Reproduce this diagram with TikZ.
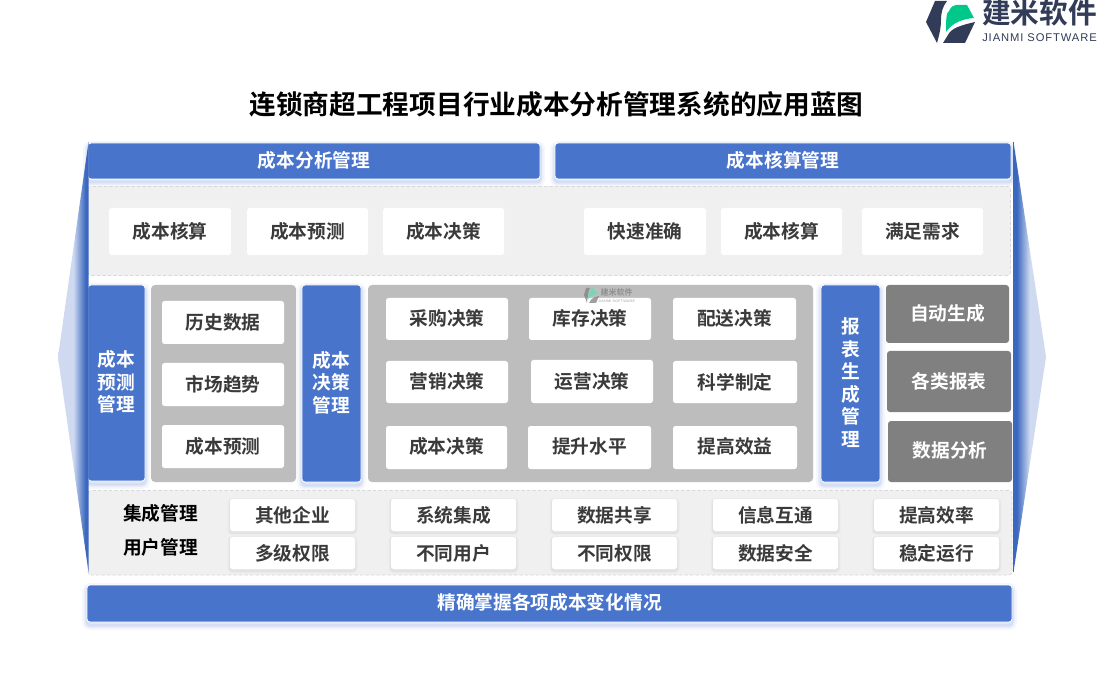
\documentclass[tikz,border=0pt]{standalone}
\usepackage{fontspec}
\setmainfont{Noto Sans CJK SC}[BoldFont={* Bold}]
\newfontfamily\cjkb{Noto Sans CJK SC Bold}
\newfontfamily\latinf{Liberation Sans}[LetterSpace=8]
\definecolor{hblue}{HTML}{4874CB}
\definecolor{wingD}{HTML}{3B68BE}
\definecolor{wingL}{HTML}{CFDAF1}
\definecolor{band}{HTML}{F0F0F0}
\definecolor{dash}{HTML}{D8D8D8}
\definecolor{lgrey}{HTML}{BDBDBD}
\definecolor{dgrey}{HTML}{808080}
\definecolor{ink}{HTML}{3A3A3A}
\definecolor{logod}{HTML}{323C58}
\definecolor{logog}{HTML}{00C78A}
\definecolor{glow}{HTML}{7F9BE0}
\pgfdeclarehorizontalshading{wingleft}{100bp}{color(0bp)=(wingL);color(50bp)=(wingL);color(70bp)=(wingD);color(100bp)=(wingD)}
\pgfdeclarehorizontalshading{wingright}{100bp}{color(0bp)=(wingD);color(30bp)=(wingD);color(50bp)=(wingL);color(100bp)=(wingL)}
\tikzset{
  x=1pt,y=-1pt,
  boxtext/.style={font=\cjkb\fontsize{18.7}{20}\selectfont,text=ink,inner sep=0pt},
  uptext/.style={boxtext,yshift=1pt},
  whitetext/.style={font=\cjkb\fontsize{18.7}{22.5}\selectfont,text=white,inner sep=0pt,align=center,yshift=1pt},
  glowing/.style={
    preaction={draw=glow,draw opacity=.07,line width=10pt,transform canvas={yshift=-3pt}},
    preaction={draw=glow,draw opacity=.10,line width=6pt,transform canvas={yshift=-3pt}},
    preaction={draw=glow,draw opacity=.18,line width=3pt,transform canvas={yshift=-3pt}}},
  bluebox/.style={glowing,fill=hblue,draw=white,line width=.8pt,rounded corners=3pt},
  whitebox/.style={fill=white,rounded corners=2.5pt},
  softbox/.style={
    preaction={draw=black,draw opacity=.025,line width=5pt,transform canvas={yshift=-1.5pt}},
    preaction={draw=black,draw opacity=.03,line width=2.5pt,transform canvas={yshift=-1.5pt}},
    fill=white,rounded corners=2.5pt},
  bandbox/.style={fill=band,draw=dash,dash pattern=on 3.5pt off 2pt,line width=.7pt,rounded corners=3pt},
  greybox/.style={fill=lgrey,rounded corners=4pt},
  darkbox/.style={fill=dgrey,rounded corners=3pt},
}
% #1 name, #2 style, #3 x0, #4 y0, #5 x1, #6 y1, #7 text style, #8 text
\newcommand{\bx}[8]{%
  \path[#2] (#3,#4) rectangle (#5,#6);
  \node[#7] (#1) at ({(#3+#5)/2},{(#4+#6)/2}) {#8};}
\begin{document}
\begin{tikzpicture}
\useasboundingbox (0,0) rectangle (1100,700);
\fill[white] (0,0) rectangle (1100,700);

% title
\node[font=\cjkb\fontsize{26.7}{30}\selectfont,text=black,inner sep=0pt] (title) at (556.5,104) {连锁商超工程项目行业成本分析管理系统的应用蓝图};

% logo
\fill[logod] (935,1) -- (947,1) .. controls (943,6) and (941,12) .. (941,20) .. controls (941,28) and (939,36) .. (937,43) -- (926,22) -- cycle;
\fill[logod] (943,43) -- (965,43) -- (975,22) .. controls (962,25) and (951,28) .. (948,35) -- cycle;
\fill[logog] (946,32) .. controls (946,22) and (946,12) .. (949,11) .. controls (951,7) and (953,5) .. (956,5) -- (967,5) -- (974,18) .. controls (962,19) and (952,23) .. (946,32) -- cycle;
\node[font=\cjkb\fontsize{28.7}{30}\selectfont,text=logod,inner sep=0pt] (logocn) at (1039.5,13) {建米软件};
\node[font=\latinf\fontsize{11.2}{12}\selectfont,text=logod,inner sep=0pt] (logoen) at (1039.5,38) {JIANMI SOFTWARE};

% header bars
\bx{hleft}{bluebox}{88}{143}{540}{179}{whitetext}{成本分析管理}
\bx{hright}{bluebox}{555}{143}{1011}{179}{whitetext}{成本核算管理}

% band 1
\path[bandbox] (88,186.5) rectangle (1010.5,275.5);
\bx{a1}{whitebox}{109}{208}{231}{255}{boxtext}{成本核算}
\bx{a2}{whitebox}{247}{208}{368}{255}{boxtext}{成本预测}
\bx{a3}{whitebox}{383}{208}{504}{255}{boxtext}{成本决策}
\bx{a4}{whitebox}{584}{208}{706}{255}{boxtext}{快速准确}
\bx{a5}{whitebox}{721}{208}{842}{255}{boxtext}{成本核算}
\bx{a6}{whitebox}{862}{208}{983}{255}{boxtext}{满足需求}

% middle: left
\bx{m1}{bluebox}{88}{285}{145}{481}{whitetext}{成本\\预测\\管理}
\path[greybox] (151,285) rectangle (296,482);
\bx{b1}{whitebox}{162}{301}{284}{344}{boxtext}{历史数据}
\bx{b2}{whitebox}{162}{363}{284}{406}{boxtext}{市场趋势}
\bx{b3}{whitebox}{162}{425}{284}{468}{boxtext}{成本预测}

% middle: centre
\bx{m2}{bluebox}{302}{285}{361}{482}{whitetext}{成本\\决策\\管理}
\path[greybox] (368,285) rectangle (813,482);
\bx{c1}{whitebox}{386}{298}{508}{340}{uptext}{采购决策}
\bx{c2}{whitebox}{529}{298}{651}{340}{uptext}{库存决策}
\bx{c3}{whitebox}{673}{298}{796}{340}{uptext}{配送决策}
\bx{c4}{whitebox}{386}{361}{508}{403}{uptext}{营销决策}
\bx{c5}{whitebox}{531}{360}{653}{403}{boxtext}{运营决策}
\bx{c6}{whitebox}{673}{361}{797}{403}{boxtext}{科学制定}
\bx{c7}{whitebox}{386}{426}{507}{469}{uptext}{成本决策}
\bx{c8}{whitebox}{528}{426}{651}{469}{uptext}{提升水平}
\bx{c9}{whitebox}{673}{426}{797}{469}{uptext}{提高效益}

% watermark
\begin{scope}[opacity=.75]
\fill[dgrey] (586,288) -- (590,288) .. controls (588,291) and (588,296) .. (587,303) -- (584,295) -- cycle;
\fill[dgrey] (589,303) -- (596,303) -- (599,296) .. controls (595,297) and (591,298) .. (589,303) -- cycle;
\fill[logog!60!white] (588,299) .. controls (588,294) and (590,289) .. (593,288) -- (598,294) .. controls (594,294) and (591,296) .. (588,299) -- cycle;
\node[font=\cjkb\fontsize{8}{9}\selectfont,text=dgrey,inner sep=0pt] (wm) at (616.5,292.5) {建米软件};
\node[font=\latinf\fontsize{3.6}{4}\selectfont,text=dgrey,inner sep=0pt] (wmen) at (616.5,301) {JIANMI SOFTWARE};
\end{scope}

% middle: right
\bx{m3}{bluebox}{821}{285}{880}{482}{whitetext}{报\\表\\生\\成\\管\\理}
\bx{d1}{darkbox}{886}{285}{1009}{343}{whitetext}{自动生成}
\path[darkbox] (887,351) rectangle (1011,412);
\node[boxtext,text=white] (d2) at (949,381.5) {各类报表};
\bx{d3}{darkbox}{888}{421}{1012}{482}{whitetext}{数据分析}

% band 2
\path[bandbox] (88,490.5) rectangle (1012,575);
\node[font=\cjkb\fontsize{18.7}{20}\selectfont,text=black,inner sep=0pt] (l1) at (160.5,513) {集成管理};
\node[font=\cjkb\fontsize{18.7}{20}\selectfont,text=black,inner sep=0pt] (l2) at (160.5,547) {用户管理};
\bx{e1}{softbox}{230}{499}{355}{531}{boxtext}{其他企业}
\bx{e2}{softbox}{391}{499}{516}{531}{boxtext}{系统集成}
\bx{e3}{softbox}{552}{499}{677}{531}{boxtext}{数据共享}
\bx{e4}{softbox}{713}{499}{838}{531}{boxtext}{信息互通}
\bx{e5}{softbox}{874}{499}{999}{531}{boxtext}{提高效率}
\bx{f1}{softbox}{230}{537}{355}{569}{boxtext}{多级权限}
\bx{f2}{softbox}{391}{537}{516}{569}{boxtext}{不同用户}
\bx{f3}{softbox}{552}{537}{677}{569}{boxtext}{不同权限}
\bx{f4}{softbox}{713}{537}{838}{569}{boxtext}{数据安全}
\bx{f5}{softbox}{874}{537}{999}{569}{boxtext}{稳定运行}

% bottom bar
\bx{foot}{bluebox}{87}{585}{1012}{622}{whitetext}{精确掌握各项成本变化情况}

% side wings
\path[shading=wingleft] (88.5,142) -- (58,357) -- (88.5,572) -- cycle;
\path[shading=wingright] (1013.5,142) -- (1046,357) -- (1013.5,572) -- cycle;
\end{tikzpicture}
\end{document}
